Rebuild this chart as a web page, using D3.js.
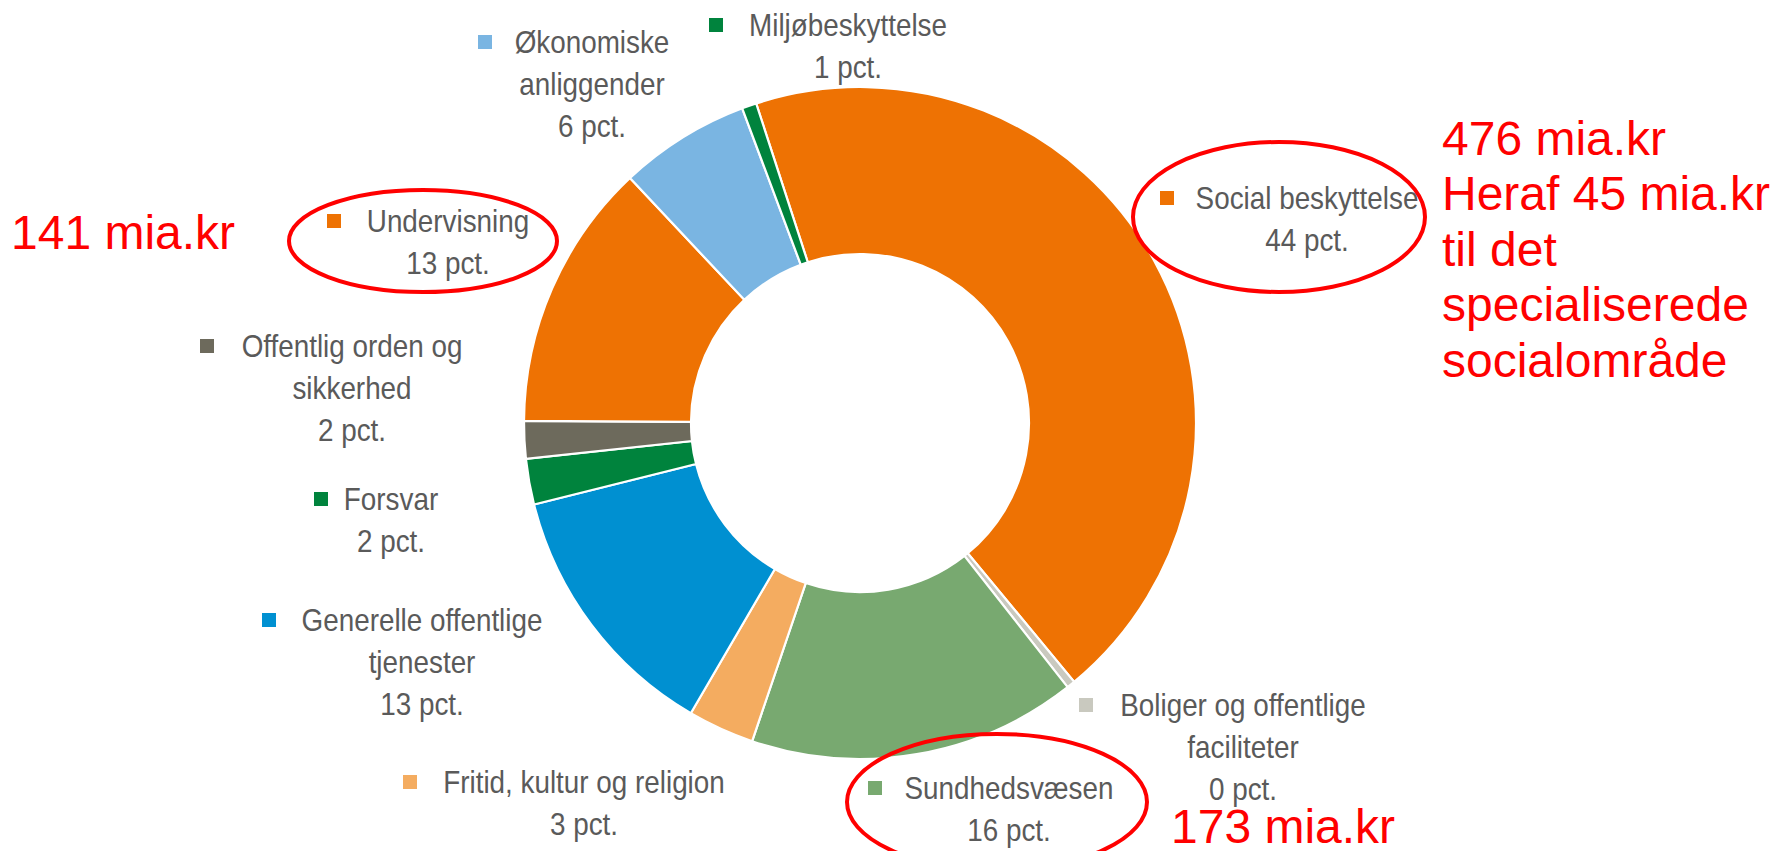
<!DOCTYPE html>
<html>
<head>
<meta charset="utf-8">
<script src="https://cdn.jsdelivr.net/npm/d3@7"></script>
<style>
  html, body { margin: 0; padding: 0; background: #fff; }
  svg { display: block; }
</style>
</head>
<body>
<svg id="chart" width="1777" height="851"></svg>
<script>
// ---- data ----
const categories = [
  "Social beskyttelse", "Boliger og offentlige faciliteter", "Sundhedsvæsen",
  "Fritid, kultur og religion", "Generelle offentlige tjenester", "Forsvar",
  "Offentlig orden og sikkerhed", "Undervisning", "Økonomiske anliggender", "Miljøbeskyttelse"
];
const shares = [44.0, 0.4, 15.8, 3.2, 12.7, 2.2, 1.8, 12.9, 6.3, 0.7];
const pctLabels = ["44 pct.", "0 pct.", "16 pct.", "3 pct.", "13 pct.", "2 pct.", "2 pct.", "13 pct.", "6 pct.", "1 pct."];
const labelLines = [
  ["Social beskyttelse"], ["Boliger og offentlige", "faciliteter"], ["Sundhedsvæsen"],
  ["Fritid, kultur og religion"], ["Generelle offentlige", "tjenester"], ["Forsvar"],
  ["Offentlig orden og", "sikkerhed"], ["Undervisning"], ["Økonomiske", "anliggender"], ["Miljøbeskyttelse"]
];
const colors = ["#EE7203", "#C9C9BF", "#78A970", "#F4AC60", "#0090D1", "#00833D",
                "#6D6A5C", "#EE7203", "#7AB5E2", "#00833D"];
const annotLeft = ["141 mia.kr"];
const annotRight = ["476 mia.kr", "Heraf 45 mia.kr", "til det", "specialiserede", "socialområde"];
const annotBottom = ["173 mia.kr"];

// ---- layout (positions only) ----
const cx = 860, cy = 423, outerR = 336, innerR = 169;
const startDeg = -18;
// [markerX, firstLineY, textCenterX]
const labelPos = [
  [1167, 198, 1307], [1086, 705, 1243], [875, 788, 1009], [410, 782, 584],
  [269, 620, 422], [321, 499, 391], [207, 346, 352], [334, 221, 448],
  [485, 42, 592], [716, 25, 848]
];
const lineH = 42;

const svg = d3.select("#chart");

const pie = d3.pie().sort(null).value(d => d)
  .startAngle(startDeg * Math.PI / 180)
  .endAngle(startDeg * Math.PI / 180 + 2 * Math.PI);
const arc = d3.arc().innerRadius(innerR).outerRadius(outerR);

const g = svg.append("g").attr("transform", `translate(${cx},${cy})`);
g.selectAll("path").data(pie(shares)).join("path")
  .attr("d", arc)
  .attr("fill", (d, i) => colors[i])
  .attr("stroke", "#fff")
  .attr("stroke-width", 2.2);

// labels
const lab = svg.append("g").attr("font-family", "'Liberation Sans', Arial, sans-serif")
  .attr("font-size", 32).attr("fill", "#5A5A5A");
categories.forEach((c, i) => {
  const [mx, y0, tx] = labelPos[i];
  lab.append("rect").attr("x", mx - 7).attr("y", y0 - 7).attr("width", 14).attr("height", 14)
    .attr("fill", colors[i]);
  const lines = labelLines[i].concat([pctLabels[i]]);
  lines.forEach((t, k) => {
    lab.append("text")
      .attr("transform", `translate(${tx},${y0 + k * lineH}) scale(0.87,1)`)
      .attr("text-anchor", "middle")
      .attr("dominant-baseline", "central")
      .text(t);
  });
});

// red annotations
const red = "#FF0000";
const ann = svg.append("g").attr("font-family", "'Liberation Sans', Arial, sans-serif")
  .attr("font-size", 48).attr("fill", red);
ann.append("text").attr("x", 11).attr("y", 232).attr("dominant-baseline", "central").text(annotLeft[0]);
annotRight.forEach((t, k) => {
  ann.append("text").attr("x", 1442).attr("y", 138 + k * 55.5).attr("dominant-baseline", "central").text(t);
});
ann.append("text").attr("x", 1171).attr("y", 826).attr("dominant-baseline", "central").text(annotBottom[0]);

const ell = svg.append("g").attr("fill", "none").attr("stroke", red).attr("stroke-width", 4);
ell.append("ellipse").attr("cx", 423).attr("cy", 241).attr("rx", 134).attr("ry", 51);
ell.append("ellipse").attr("cx", 1279).attr("cy", 217).attr("rx", 146).attr("ry", 75);
ell.append("ellipse").attr("cx", 997).attr("cy", 802).attr("rx", 150).attr("ry", 68);
</script>
</body>
</html>
